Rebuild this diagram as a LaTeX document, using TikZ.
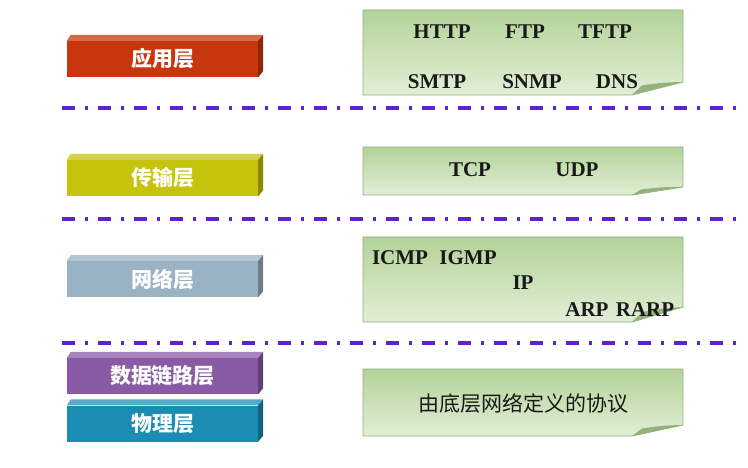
\documentclass[tikz,border=0pt]{standalone}
\usepackage{fontspec}
\setmainfont{Liberation Serif}
\newfontfamily\cjk{Noto Sans CJK SC}
\usepackage{tikz}
\usetikzlibrary{positioning}

\definecolor{appred}{HTML}{C8360E}
\definecolor{transyellow}{HTML}{C6C30C}
\definecolor{netgrey}{HTML}{9AB3C4}
\definecolor{linkpurple}{HTML}{8A5BA5}
\definecolor{phyblue}{HTML}{1B8DB4}
\definecolor{boxdark}{HTML}{B3D399}
\definecolor{boxlight}{HTML}{E2EED6}
\definecolor{boxedge}{HTML}{8FAF7B}
\definecolor{flapgreen}{HTML}{94B27A}
\definecolor{sepline}{HTML}{5E22D4}

\begin{document}
\begin{tikzpicture}[x=1pt,y=-1pt,
  layer/.style={minimum width=191pt,minimum height=36pt,inner sep=0pt,text=white,
    font=\cjk\bfseries\fontsize{21}{21}\selectfont},
  proto/.style={inner sep=0pt,text=black!90,font=\bfseries\fontsize{21}{21}\selectfont},
  protobox/.style={top color=boxdark,bottom color=boxlight,draw=boxedge,line width=0.8pt},
  sepdash/.style={sepline,line width=3.5pt,dash pattern=on 13pt off 10pt on 3pt off 10pt}]
\useasboundingbox (0,0) rectangle (748,468);

% layer bars
\node [layer,fill=appred] (app) at (162.5,59) {应用层};
\node [layer,fill=transyellow] (trans) at (162.5,178) {传输层};
\node [layer,fill=netgrey] (net) at (162.5,279) {网络层};
\node [layer,fill=linkpurple] (link) at (162.5,376) {数据链路层};
\node [layer,fill=phyblue] (phy) at (162.5,423.5) {物理层};
\foreach \n/\c in {app/appred,trans/transyellow,net/netgrey,link/linkpurple,phy/phyblue} {
  \fill [\c!75!white] (\n.north west) -- ++(4,-6) -- ([shift={(5,-6)}]\n.north east) -- (\n.north east) -- cycle;
  \fill [\c!70!black] (\n.north east) -- ++(5,-6) -- ([shift={(5,-6)}]\n.south east) -- (\n.south east) -- cycle;
}

% separators
\draw [sepdash] (62,108) -- (737,108);
\draw [sepdash] (62,219) -- (737,219);
\draw [sepdash] (62,343) -- (737,343);

% protocol boxes
\shadedraw [protobox] (363,10) -- (683,10) -- (683,82) -- (632,95) -- (363,95) -- cycle;
\fill [flapgreen] (632,95) -- (642,85.5) to [bend left=4] (683,82) -- cycle;
\shadedraw [protobox] (363,147) -- (683,147) -- (683,187) -- (632,195) -- (363,195) -- cycle;
\fill [flapgreen] (632,195) -- (641,189.5) to [bend left=4] (683,187) -- cycle;
\shadedraw [protobox] (363,237) -- (683,237) -- (683,307) -- (632,322) -- (363,322) -- cycle;
\fill [flapgreen] (632,322) -- (642,312) to [bend left=4] (683,307) -- cycle;
\shadedraw [protobox] (363,369) -- (683,369) -- (683,425) -- (632,436) -- (363,436) -- cycle;
\fill [flapgreen] (632,436) -- (642,428.5) to [bend left=4] (683,425) -- cycle;

% application protocols
\node [proto] (http) at (442,32) {HTTP};
\node [proto] (ftp) at (525,32) {FTP};
\node [proto] (tftp) at (605,32) {TFTP};
\node [proto] (smtp) at (437,82) {SMTP};
\node [proto] (snmp) at (532,82) {SNMP};
\node [proto] (dns) at (617,82) {DNS};
% transport protocols
\node [proto] (tcp) at (470,170) {TCP};
\node [proto] (udp) at (577,170) {UDP};
% network protocols
\node [proto] (icmp) at (400,258) {ICMP};
\node [proto] (igmp) at (468,258) {IGMP};
\node [proto] (ip) at (523,283) {IP};
\node [proto] (arp) at (587,310) {ARP};
\node [proto] (rarp) at (645,310) {RARP};
% lower layers
\node [inner sep=0pt,text=black!90,font=\cjk\fontsize{21}{21}\selectfont] (below) at (523,403) {由底层网络定义的协议};
\end{tikzpicture}
\end{document}
